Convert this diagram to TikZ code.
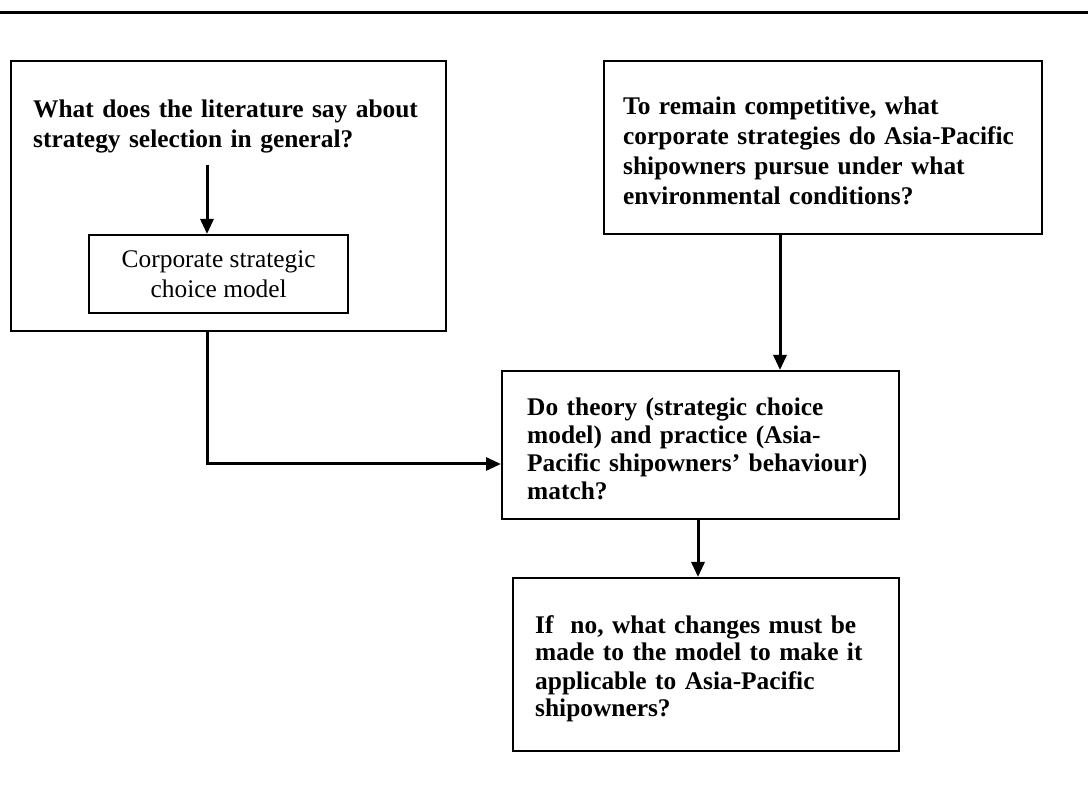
\documentclass[tikz,border=0pt]{standalone}
\usepackage{fontspec}
\setmainfont{Liberation Serif}
\usetikzlibrary{arrows.meta}

\begin{document}
\begin{tikzpicture}[x=1pt,y=-1pt,
  frame/.style={draw, line width=2.4pt, inner sep=0pt, anchor=north west},
  qtext/.style={anchor=base west, inner sep=0pt, align=left, text width=420pt,
     font=\fontsize{25.4}{#1}\selectfont\bfseries},
  link/.style={line width=3pt, -{Triangle[length=15pt,width=13pt]}},
]
\useasboundingbox (0,0) rectangle (1088,799);

% rule across the head of the page
\coordinate (ruleL) at (0,13);
\coordinate (ruleR) at (1088,13);
\draw[line width=3pt] (ruleL) -- (ruleR);

% literature question with the strategic choice model inside
\node[frame, minimum width=435pt, minimum height=270pt] (litbox) at (10,60) {};
\node[qtext=30] (littext) at (33,118)
  {What does the literature say about\\strategy selection in general?};
\node[frame, minimum width=259pt, minimum height=78pt, align=center,
      font=\fontsize{25.4}{30}\selectfont] (model) at (88,234)
  {Corporate strategic\\choice model};

% practice question
\node[frame, minimum width=438pt, minimum height=173pt] (comp) at (603,60) {};
\node[qtext=30] (comptext) at (623,115)
  {To remain competitive, what\\corporate strategies do Asia-Pacific\\shipowners pursue under what\\environmental conditions?};

% comparison of theory and practice
\node[frame, minimum width=397pt, minimum height=148pt] (match) at (501,370) {};
\node[qtext=28] (matchtext) at (527,416)
  {Do theory (strategic choice\\model) and practice (Asia-\\Pacific shipowners’ behaviour)\\match?};

% required changes
\node[frame, minimum width=386pt, minimum height=173pt] (change) at (512,577) {};
\node[qtext=28] (changetext) at (535,633)
  {If\ \ no, what changes must be\\made to the model to make it\\applicable to Asia-Pacific\\shipowners?};

% connectors
\coordinate (litfoot) at (207,165);
\coordinate (joinL) at (207,464);
\coordinate (xright) at (780,0);
\coordinate (xmid) at (698,0);

\draw[link] (litfoot) -- (litfoot |- model.north);
\draw[link] (litbox.south -| joinL) -- (joinL) -- (joinL -| match.west);
\draw[link] (comp.south -| xright) -- (match.north -| xright);
\draw[link] (match.south -| xmid) -- (change.north -| xmid);
\end{tikzpicture}
\end{document}
